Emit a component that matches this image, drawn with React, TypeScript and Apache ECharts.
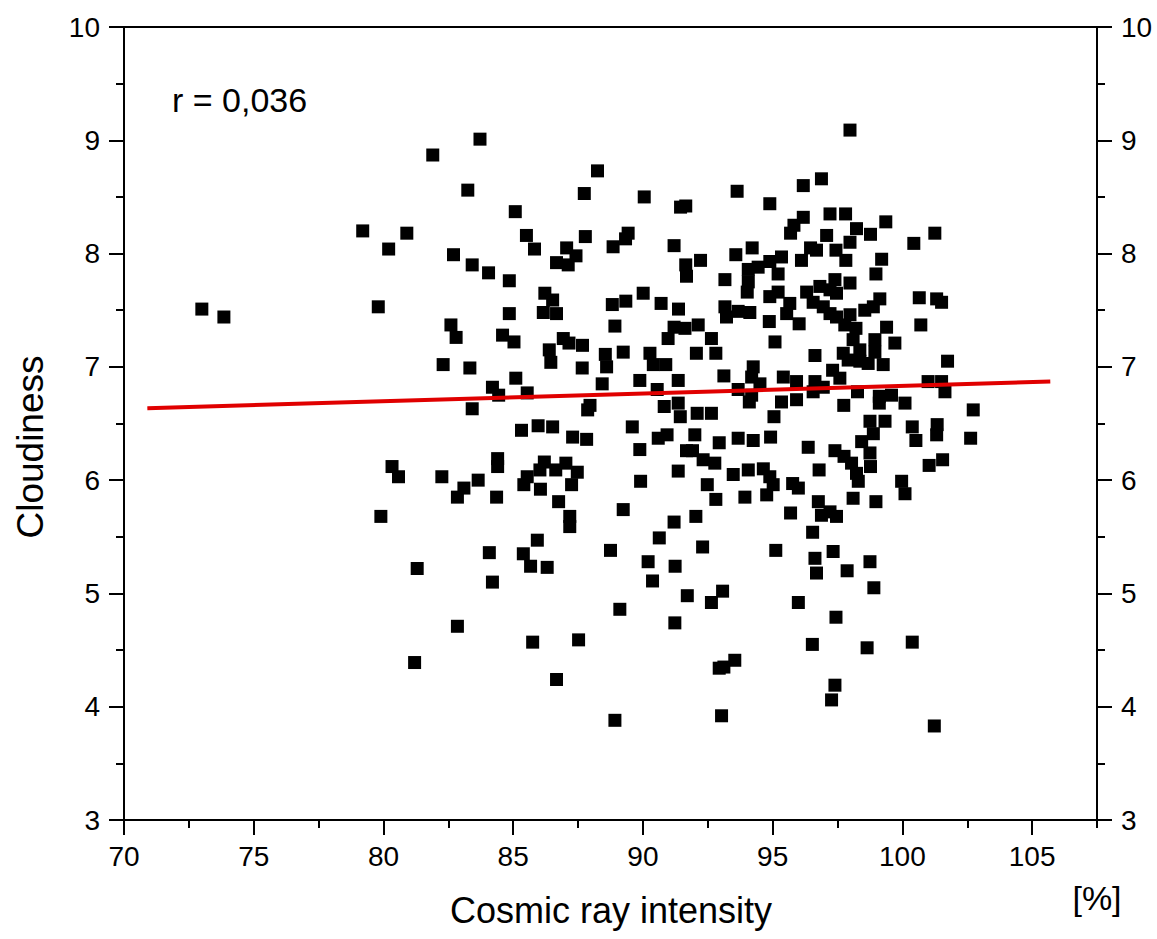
import React, { useEffect, useRef } from "react";
import * as echarts from "echarts";

// Cosmic ray intensity [%] vs cloudiness
const points: [number, number][] = [
  [81.9, 8.87], [79.2, 8.2], [80.9, 8.18], [80.2, 8.04], [82.7, 7.99], [73.0, 7.51], [73.85, 7.44],
  [79.8, 7.53], [82.6, 7.37], [82.8, 7.26], [82.3, 7.02],
  [80.33, 6.12], [80.58, 6.03], [82.25, 6.03], [82.85, 5.85], [79.9, 5.68], [81.3, 5.22], [82.85, 4.71], [81.2, 4.39],
  [83.72, 9.01], [88.25, 8.73], [83.25, 8.56], [87.74, 8.53], [90.05, 8.5], [91.45, 8.41], [91.65, 8.42],
  [85.08, 8.37], [85.51, 8.16], [85.82, 8.04], [87.78, 8.15], [89.43, 8.18], [89.33, 8.13], [88.85, 8.06],
  [87.06, 8.05], [87.42, 7.98], [86.67, 7.92], [87.12, 7.9], [83.42, 7.9], [84.05, 7.83], [84.85, 7.76],
  [91.2, 8.07], [92.22, 7.94], [91.65, 7.9], [91.68, 7.8], [93.16, 7.77], [90.01, 7.65], [89.34, 7.58],
  [88.82, 7.55], [90.7, 7.56], [91.37, 7.51], [86.22, 7.65], [86.52, 7.59], [86.16, 7.48], [86.67, 7.47],
  [84.85, 7.47], [93.16, 7.53], [93.22, 7.44], [88.92, 7.36], [91.2, 7.35], [91.62, 7.34], [92.13, 7.37],
  [90.97, 7.25], [92.64, 7.25], [92.06, 7.12], [92.81, 7.12], [84.59, 7.28], [85.03, 7.22], [86.93, 7.25],
  [87.15, 7.21], [87.67, 7.19], [86.39, 7.15], [86.45, 7.04], [88.55, 7.11], [88.6, 7.0], [89.24, 7.13],
  [90.27, 7.12], [90.4, 7.02], [90.88, 7.02], [83.33, 6.99], [87.66, 6.99], [85.1, 6.9], [84.2, 6.82],
  [84.44, 6.75], [85.54, 6.77], [88.43, 6.85], [89.88, 6.88], [91.36, 6.88], [90.55, 6.8], [93.12, 6.92],
  [83.42, 6.63], [87.96, 6.66], [87.87, 6.62], [90.82, 6.65], [91.36, 6.68], [91.44, 6.56], [92.09, 6.59],
  [92.64, 6.59],
  [85.32, 6.44], [85.96, 6.48], [86.52, 6.47], [87.29, 6.38], [87.83, 6.36], [89.59, 6.47], [89.88, 6.27],
  [90.59, 6.37], [90.93, 6.4], [92.0, 6.4], [92.94, 6.33], [91.68, 6.26], [91.91, 6.26], [92.32, 6.18],
  [92.77, 6.15], [91.36, 6.08], [92.48, 5.96], [92.81, 5.83], [89.91, 5.99], [89.24, 5.74], [84.4, 6.19],
  [84.4, 6.12], [83.65, 6.0], [83.1, 5.93], [84.36, 5.85], [86.2, 6.16], [86.03, 6.09], [85.54, 6.03],
  [85.41, 5.96], [86.05, 5.92], [86.64, 6.09], [87.03, 6.15], [87.47, 6.07], [87.25, 5.96], [86.75, 5.81],
  [87.18, 5.68], [87.18, 5.59], [85.93, 5.47], [85.39, 5.35], [85.67, 5.24], [86.31, 5.23], [84.08, 5.36],
  [84.2, 5.1], [88.75, 5.38], [91.2, 5.63], [92.04, 5.68], [90.63, 5.49], [92.3, 5.41], [90.2, 5.28],
  [91.24, 5.24], [90.37, 5.11], [91.71, 4.98], [92.64, 4.92], [93.07, 5.02], [89.11, 4.86], [91.23, 4.74],
  [85.75, 4.57], [87.52, 4.59], [86.67, 4.24], [88.92, 3.88], [92.94, 4.34], [93.12, 4.35], [93.03, 3.92],
  [97.98, 9.09], [96.88, 8.66], [96.18, 8.6], [93.63, 8.55], [94.89, 8.44], [97.21, 8.35], [97.81, 8.35],
  [96.18, 8.32], [95.82, 8.25], [95.69, 8.18], [98.23, 8.22], [99.36, 8.28], [98.77, 8.17], [97.08, 8.16],
  [97.98, 8.1], [101.25, 8.18], [100.44, 8.09], [93.58, 7.99], [94.21, 8.05], [96.69, 8.03], [96.46, 8.05],
  [97.44, 8.03], [97.82, 7.94], [96.11, 7.94], [95.34, 7.97], [94.89, 7.93], [94.44, 7.88], [94.06, 7.86],
  [95.21, 7.82], [99.2, 7.95], [98.98, 7.82], [94.06, 7.75], [97.4, 7.77], [97.98, 7.74], [94.02, 7.66],
  [94.89, 7.62], [95.21, 7.66], [96.31, 7.66], [96.82, 7.71], [97.21, 7.68], [97.46, 7.65], [99.13, 7.6],
  [100.65, 7.61], [101.32, 7.6], [101.51, 7.57], [93.67, 7.49], [94.12, 7.48], [95.66, 7.56], [95.54, 7.47],
  [96.56, 7.57], [96.95, 7.53], [97.21, 7.47], [97.46, 7.44], [97.98, 7.46], [98.55, 7.5], [98.88, 7.53],
  [94.87, 7.4], [96.02, 7.38], [97.78, 7.37], [98.21, 7.34], [99.39, 7.35], [100.71, 7.37], [98.1, 7.24],
  [98.94, 7.24], [99.71, 7.21], [98.36, 7.15], [98.94, 7.13], [97.72, 7.12], [97.91, 7.06], [98.36, 7.05],
  [98.68, 7.03], [99.26, 7.02], [95.09, 7.22], [96.63, 7.1], [101.74, 7.05], [94.25, 7.0], [94.19, 6.91],
  [94.51, 6.85], [93.67, 6.8], [94.19, 6.75], [94.1, 6.69], [95.41, 6.91], [95.92, 6.87], [96.63, 6.87],
  [96.95, 6.82], [96.56, 6.78], [97.31, 6.97], [97.59, 6.9], [95.34, 6.69], [95.92, 6.71], [95.05, 6.56],
  [97.74, 6.66], [98.27, 6.78], [99.11, 6.74], [99.58, 6.75], [99.11, 6.68], [100.1, 6.68], [100.99, 6.87],
  [101.51, 6.87], [101.64, 6.78], [102.73, 6.62], [98.75, 6.52], [99.33, 6.52], [100.38, 6.47], [101.34, 6.49],
  [100.52, 6.35], [101.32, 6.4], [102.63, 6.37], [93.67, 6.37], [94.25, 6.35], [94.92, 6.38], [96.37, 6.29],
  [97.4, 6.26], [97.75, 6.21], [98.04, 6.15], [98.43, 6.34], [98.88, 6.41], [98.75, 6.24], [98.77, 6.12],
  [98.23, 6.06], [98.3, 5.99], [98.1, 5.84], [101.55, 6.18], [101.03, 6.13], [99.97, 5.99], [100.1, 5.88],
  [98.98, 5.81], [93.48, 6.05], [94.06, 6.09], [94.64, 6.1], [94.89, 6.03], [95.02, 5.96], [94.77, 5.87],
  [93.93, 5.85], [95.77, 5.97], [95.99, 5.93], [96.79, 6.09], [96.76, 5.81], [96.88, 5.69], [97.21, 5.72],
  [97.46, 5.68], [95.69, 5.71], [96.54, 5.54], [95.12, 5.38], [97.33, 5.37], [96.63, 5.31], [96.69, 5.18],
  [97.87, 5.2], [98.75, 5.28], [98.9, 5.05], [95.99, 4.92], [97.44, 4.79], [96.53, 4.55], [98.64, 4.52],
  [100.38, 4.57], [93.54, 4.41], [97.4, 4.19], [97.27, 4.06], [101.23, 3.83],
];

// linear fit (r = 0,036)
const fitLine: [number, number][] = [
  [70.9, 6.635],
  [105.7, 6.87],
];

const xMajorTicks = [70, 75, 80, 85, 90, 95, 100, 105];
const xMinorTicks = [72.5, 77.5, 82.5, 87.5, 92.5, 97.5, 102.5, 107.5];
const yTicks = [3, 4, 5, 6, 7, 8, 9, 10];

const xTitle = "Cosmic ray intensity";
const yTitle = "Cloudiness";
const unitLabel = "[%]";
const correlationLabel = "r = 0,036";

export default function App() {
  const ref = useRef<HTMLDivElement>(null);

  useEffect(() => {
    if (!ref.current) return;
    const chart = echarts.init(ref.current, null, { renderer: "svg" });
    const font = "'Liberation Sans', Arial, sans-serif";
    const black = "#000";
    const lineStyle = { color: black, width: 2 };

    const yAxisBase = {
      type: "value",
      min: 3,
      max: 10,
      interval: 1,
      axisLine: { show: true, onZero: false, lineStyle },
      axisTick: { show: true, length: 15, lineStyle },
      minorTick: { show: true, splitNumber: 2, length: 8, lineStyle },
      axisLabel: { show: true, fontSize: 28, fontFamily: font, color: black, margin: 24 },
      splitLine: { show: false },
      minorSplitLine: { show: false },
    };

    chart.setOption({
      animation: false,
      backgroundColor: "#fff",
      grid: { left: 124, top: 27, width: 973, height: 793, containLabel: false },
      xAxis: [
        {
          type: "value",
          min: 70,
          max: 107.5,
          position: "bottom",
          axisLine: { show: true, onZero: false, lineStyle },
          axisTick: { show: true, length: 15, lineStyle, customValues: xMajorTicks },
          axisLabel: {
            show: true,
            customValues: xMajorTicks,
            fontSize: 28,
            fontFamily: font,
            color: black,
            margin: 22,
          },
          splitLine: { show: false },
        },
        {
          type: "value",
          min: 70,
          max: 107.5,
          position: "bottom",
          axisLine: { show: false, onZero: false },
          axisTick: { show: true, length: 8, lineStyle, customValues: xMinorTicks },
          axisLabel: { show: false },
          splitLine: { show: false },
        },
        {
          type: "value",
          min: 70,
          max: 107.5,
          position: "top",
          axisLine: { show: true, onZero: false, lineStyle },
          axisTick: { show: false },
          axisLabel: { show: false },
          splitLine: { show: false },
        },
      ],
      yAxis: [
        { ...yAxisBase, position: "left", axisLabel: { ...yAxisBase.axisLabel, customValues: yTicks } },
        { ...yAxisBase, position: "right", axisLabel: { ...yAxisBase.axisLabel, customValues: yTicks } },
      ],
      series: [
        {
          type: "scatter",
          xAxisIndex: 0,
          yAxisIndex: 0,
          data: points,
          symbol: "rect",
          symbolSize: 13,
          itemStyle: { color: black, opacity: 1 },
          z: 2,
        },
        {
          type: "line",
          xAxisIndex: 0,
          yAxisIndex: 0,
          data: fitLine,
          symbol: "none",
          showSymbol: false,
          lineStyle: { color: "#e00000", width: 4 },
          z: 3,
        },
      ],
      graphic: [
        {
          type: "text",
          x: 172,
          y: 100,
          style: {
            text: correlationLabel,
            font: `34px ${font}`,
            fill: black,
            textAlign: "left",
            textVerticalAlign: "middle",
          },
        },
        {
          type: "text",
          x: 611,
          y: 910,
          style: {
            text: xTitle,
            font: `36px ${font}`,
            fill: black,
            textAlign: "center",
            textVerticalAlign: "middle",
          },
        },
        {
          type: "text",
          x: 30,
          y: 447,
          rotation: Math.PI / 2,
          style: {
            text: yTitle,
            font: `37px ${font}`,
            fill: black,
            textAlign: "center",
            textVerticalAlign: "middle",
          },
        },
        {
          type: "text",
          x: 1097,
          y: 898,
          style: {
            text: unitLabel,
            font: `34px ${font}`,
            fill: black,
            textAlign: "center",
            textVerticalAlign: "middle",
          },
        },
      ],
    });

    return () => chart.dispose();
  }, []);

  return (
    <div
      ref={ref}
      style={{ position: "fixed", left: 0, top: 0, width: 1157, height: 939, background: "#fff" }}
    />
  );
}
